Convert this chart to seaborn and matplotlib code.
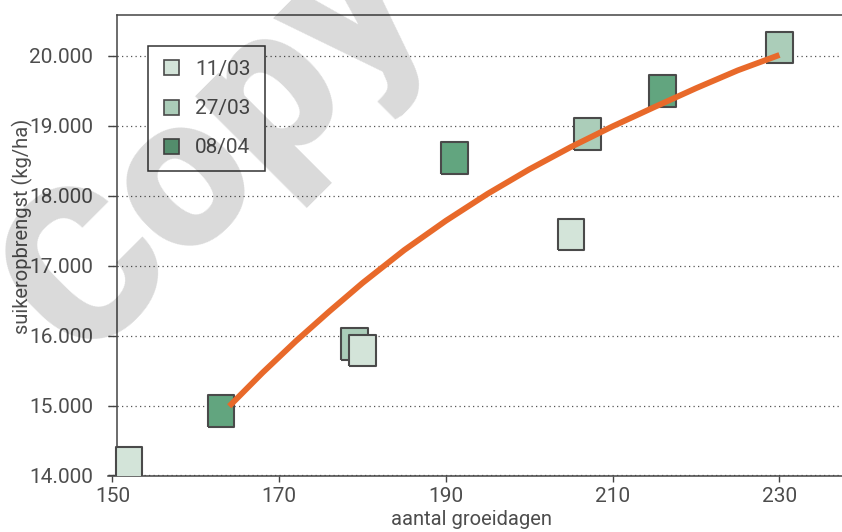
import numpy as np
import pandas as pd
import matplotlib
matplotlib.use("Agg")
import matplotlib.pyplot as plt
from matplotlib.lines import Line2D
import seaborn as sns

# Growing days and sugar yield per sowing date
sowing_dates = ["11/03", "27/03", "08/04"]
days_1103 = [152, 180, 205]
yield_1103 = [14180, 15790, 17445]
days_2703 = [179, 207, 230]
yield_2703 = [15880, 18880, 20120]
days_0804 = [163, 191, 216]
yield_0804 = [14925, 18540, 19495]

# Trend curve
trend_days = [164, 168, 172, 176, 180, 185, 190, 195, 200, 205, 210, 215, 220, 225, 230]
trend_yield = [14990, 15470, 15922, 16346, 16754, 17224, 17644, 18029, 18379,
               18699, 18994, 19269, 19539, 19794, 20014]

x_ticks = [150, 170, 190, 210, 230]
y_ticks = [14000, 15000, 16000, 17000, 18000, 19000, 20000]
y_tick_labels = ["14.000", "15.000", "16.000", "17.000", "18.000", "19.000", "20.000"]

palette = {"11/03": "#d3e4d9", "27/03": "#abcdb9", "08/04": "#62a57f"}
edge = "#4a4a4a"
text_col = "#4d4d4d"

df = pd.DataFrame({
    "dagen": days_1103 + days_2703 + days_0804,
    "opbrengst": yield_1103 + yield_2703 + yield_0804,
    "zaaidatum": (["11/03"] * len(days_1103) + ["27/03"] * len(days_2703)
                  + ["08/04"] * len(days_0804)),
})
# drawing order: 27/03 underneath where squares overlap
df["order"] = df["zaaidatum"].map({"27/03": 0, "11/03": 1, "08/04": 2})
df = df.sort_values("order", kind="stable")

sns.set_style("white")
plt.rcParams["font.family"] = ["Roboto", "DejaVu Sans"]
plt.rcParams["font.size"] = 15

W, H = 842, 532
fig = plt.figure(figsize=(W / 100, H / 100), dpi=100)
fig.patch.set_facecolor("white")
ax = fig.add_axes([108.3 / W, 1 - 475.5 / H, 1 - 108.3 / W, (475.5 - 14.7) / H])
ax.set_facecolor("white")

# translucent watermark over the whole figure
fig.text(81.5 / W, 1 - 363 / H, "Copy", rotation=45, rotation_mode="anchor",
         fontsize=155, fontweight="heavy", color="black", alpha=0.15,
         ha="left", va="baseline", zorder=20)

rect = [(-0.42, -0.5), (0.42, -0.5), (0.42, 0.5), (-0.42, 0.5), (-0.42, -0.5)]
sns.scatterplot(data=df, x="dagen", y="opbrengst", hue="zaaidatum", palette=palette,
                marker=rect, s=520, edgecolor=edge, linewidth=1.5, legend=False,
                ax=ax, zorder=3)

sns.lineplot(x=trend_days, y=trend_yield, color="#e8692a", linewidth=4.2, ax=ax,
             zorder=4, solid_capstyle="butt")

ax.set_xlim(149.5, 237.5)
ax.set_ylim(14000, 20590)
ax.set_xticks(x_ticks)
ax.set_xticklabels([str(v) for v in x_ticks])
ax.set_yticks(y_ticks)
ax.set_yticklabels(y_tick_labels)

ax.yaxis.grid(True, linestyle=(0, (1, 2.6)), color="#555555", linewidth=0.9)
ax.xaxis.grid(False)
ax.set_axisbelow(True)

for side in ["left", "bottom", "top"]:
    ax.spines[side].set_color("#444444")
    ax.spines[side].set_linewidth(1.1)
ax.spines["right"].set_visible(False)
ax.spines["left"].set_position(("data", 150.53))
ax.spines["top"].set_bounds(150.53, 237.5)

ax.tick_params(axis="y", direction="out", length=6.2, width=1.0, color="#444444",
               labelcolor=text_col, labelsize=15, pad=10.8, left=True)
ax.tick_params(axis="x", direction="out", length=4, width=1.0, color="#444444",
               labelcolor=text_col, labelsize=15, pad=4, bottom=True)

ax.set_xlabel("aantal groeidagen", color=text_col, fontsize=14.5)
ax.set_ylabel("suikeropbrengst (kg/ha)", color=text_col, fontsize=14.5)
ax.xaxis.set_label_coords(0.4946, -0.075)
ax.yaxis.set_label_coords(-0.1026, 0.54)

handles = [Line2D([], [], linestyle="", marker="s", markersize=10.8,
                  markerfacecolor=palette[d], markeredgecolor=edge, markeredgewidth=1.2,
                  label=d) for d in sowing_dates]
leg = ax.legend(handles=handles, loc="upper left",
                bbox_to_anchor=(148.3 / W, 1 - 45.7 / H), bbox_transform=fig.transFigure,
                borderaxespad=0, borderpad=0.67, handlelength=0.82, handletextpad=0.76,
                labelspacing=0.98, fontsize=15, fancybox=False, frameon=True,
                framealpha=1)
leg.get_frame().set_edgecolor("#333333")
leg.get_frame().set_linewidth(1.1)
leg.get_frame().set_facecolor("white")
leg.set_zorder(6)
for t in leg.get_texts():
    t.set_color(text_col)

fig.savefig("out.png", dpi=100)
